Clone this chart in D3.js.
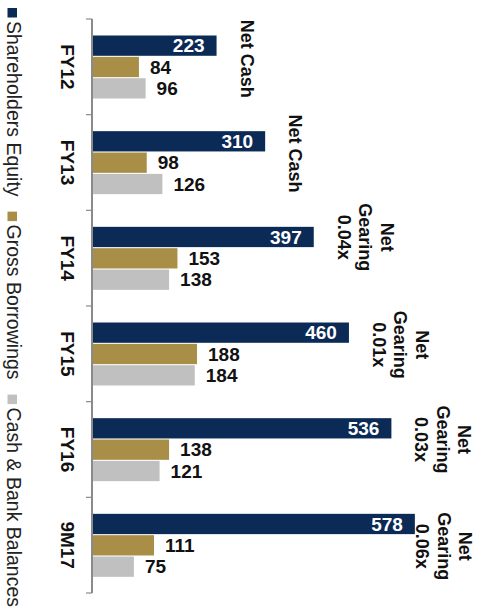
<!DOCTYPE html>
<html>
<head>
<meta charset="utf-8">
<script src="https://cdn.jsdelivr.net/npm/d3@7/dist/d3.min.js"></script>
<style>
  html, body { margin: 0; padding: 0; background: #fff; }
  svg { display: block; font-family: "Liberation Sans", Arial, sans-serif; }
</style>
</head>
<body>
<svg id="chart" width="481" height="615"></svg>
<script>
// ---- data ----
const categories = ["FY12", "FY13", "FY14", "FY15", "FY16", "9M17"];
const seriesNames = ["Shareholders Equity", "Gross Borrowings", "Cash & Bank Balances"];
const equity = [223, 310, 397, 460, 536, 578];
const borrowings = [84, 98, 153, 188, 138, 111];
const cash = [96, 126, 138, 184, 121, 75];
const annotations = [
  ["Net Cash"],
  ["Net Cash"],
  ["Net", "Gearing", "0.04x"],
  ["Net", "Gearing", "0.01x"],
  ["Net", "Gearing", "0.03x"],
  ["Net", "Gearing", "0.06x"]
];

// ---- layout / style ----
const colors = ["#0b2a55", "#a88e46", "#c0c0c0"];
const annNudge = [-8, -9, -21, -9, -10, 1];
const seriesValues = [equity, borrowings, cash];

const svg = d3.select("#chart");
const x = d3.scaleLinear().domain([0, 700]).range([92, 483]);
const y0 = d3.scaleBand().domain(categories).range([19, 593]).padding(0);
const y1 = d3.scaleBand().domain(d3.range(3)).range([16.5, 79.5]).paddingInner(0.05);

// bars
categories.forEach((c, i) => {
  const g = svg.append("g").attr("transform", `translate(0,${y0(c)})`);
  seriesValues.forEach((vals, s) => {
    const v = vals[i];
    g.append("rect")
      .attr("x", x(0))
      .attr("y", y1(s))
      .attr("width", x(v) - x(0))
      .attr("height", y1.bandwidth())
      .attr("fill", colors[s]);
    const cy = y1(s) + y1.bandwidth() / 2 + 0.358 * 19;
    if (s === 0) {
      g.append("text")
        .attr("x", x(v) - 12).attr("y", cy)
        .attr("text-anchor", "end")
        .attr("font-size", 19).attr("font-weight", "bold")
        .attr("fill", "#fff").text(v);
    } else {
      g.append("text")
        .attr("x", x(v) + 11).attr("y", cy)
        .attr("font-size", 19).attr("font-weight", "bold")
        .attr("fill", "#111").text(v);
    }
  });
});

// axis
const axisColor = "#8a8a8a";
svg.append("line")
  .attr("x1", x(0)).attr("x2", x(0))
  .attr("y1", y0.range()[0]).attr("y2", y0.range()[1])
  .attr("stroke", axisColor).attr("stroke-width", 2);
const tickYs = categories.map(c => y0(c)).concat([y0.range()[1]]);
svg.selectAll("line.tick").data(tickYs).enter().append("line")
  .attr("class", "tick")
  .attr("x1", x(0) - 6).attr("x2", x(0))
  .attr("y1", d => d).attr("y2", d => d)
  .attr("stroke", axisColor).attr("stroke-width", 1.2);

// category labels (rotated)
categories.forEach(c => {
  svg.append("text")
    .attr("transform", `translate(61,${y0(c) + y0.bandwidth() / 2}) rotate(90)`)
    .attr("text-anchor", "middle")
    .attr("font-size", 19).attr("font-weight", "bold")
    .attr("fill", "#111").text(c);
});

// annotations (rotated)
const lineH = 21.5;
categories.forEach((c, i) => {
  const lines = annotations[i];
  const lastBase = x(equity[i]) + 24;
  let firstBase = lastBase + (lines.length - 1) * lineH;
  firstBase = Math.min(firstBase, 459);
  const t = svg.append("text")
    .attr("transform", `translate(${firstBase},${y0(c) + y0.bandwidth() / 2 + annNudge[i]}) rotate(90)`)
    .attr("text-anchor", "middle")
    .attr("font-size", 18).attr("font-weight", "bold")
    .attr("fill", "#111");
  lines.forEach((l, k) => {
    t.append("tspan").attr("x", 0).attr("dy", k === 0 ? 0 : lineH).text(l);
  });
});

// legend (rotated)
const lg = svg.append("g").attr("transform", "translate(6.5,0) rotate(90)");
let pos = 8;
seriesNames.forEach((name, s) => {
  lg.append("rect")
    .attr("x", pos).attr("y", -10.5)
    .attr("width", 9.5).attr("height", 9.5)
    .attr("fill", colors[s]);
  const t = lg.append("text")
    .attr("x", pos + 13).attr("y", 0)
    .attr("font-size", 19.5)
    .attr("fill", "#222").text(name);
  const w = t.node().getComputedTextLength();
  pos = pos + 13 + w + 15;
});
</script>
</body>
</html>
